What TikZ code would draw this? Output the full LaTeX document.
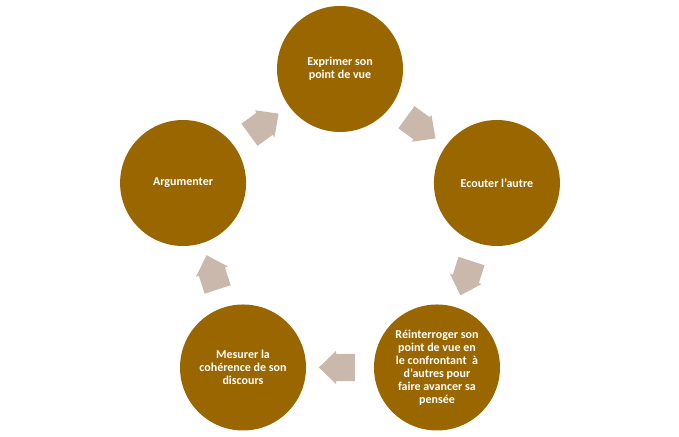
\documentclass[tikz,border=0pt]{standalone}
\usepackage{fontspec}
\setmainfont{Carlito}
\usepackage{tikz}
\usetikzlibrary{shapes,calc}
\usepackage{xcolor}
\definecolor{ptbrown}{RGB}{153,102,0}
\definecolor{pttaupe}{RGB}{201,184,171}
\tikzstyle{step circle} = [circle, minimum size=126pt, inner sep=0pt, fill=ptbrown, text=white, font=\bfseries\fontsize{12}{13}\selectfont, align=center]
\tikzstyle{flow} = [single arrow, minimum height=36pt, minimum width=33pt, single arrow head extend=3pt, single arrow tip angle=88, inner xsep=0pt, inner ysep=13.5pt, fill=pttaupe, draw=none]

\begin{document}
\begin{tikzpicture}[x=1pt,y=1pt]
\useasboundingbox (0,0) rectangle (679,436);
\coordinate (mid) at (340,202);
% Circles
\node (expr) [step circle] at ($(mid)+(90:165)$) {Exprimer son\\point de vue};
\node (ecou) [step circle] at ($(mid)+(18:165)$) {Ecouter l’autre};
\node (rein) [step circle] at ($(mid)+(-54:165)$) {Réinterroger son\\point de vue en\\le confrontant \ à\\d’autres pour\\faire avancer sa\\pensée};
\node (mesu) [step circle] at ($(mid)+(-126:165)$) {Mesurer la\\cohérence de son\\discours};
\node (argu) [step circle] at ($(mid)+(162:165)$) {Argumenter};

% Arrows between the steps (pulled back a little from the tip)
\node (a1) [flow, rotate=-36] at ($(expr)!0.5!(ecou)!4pt!(expr)$) {};
\node (a2) [flow, rotate=-108] at ($(ecou)!0.5!(rein)!4pt!(ecou)$) {};
\node (a3) [flow, rotate=180] at ($(rein)!0.5!(mesu)!4pt!(rein)$) {};
\node (a4) [flow, rotate=108] at ($(mesu)!0.5!(argu)!4pt!(mesu)$) {};
\node (a5) [flow, rotate=36] at ($(argu)!0.5!(expr)!4pt!(argu)$) {};
\end{tikzpicture}
\end{document}
